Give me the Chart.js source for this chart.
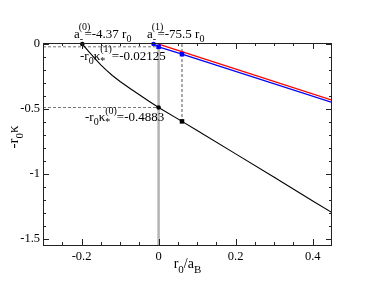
<!DOCTYPE html>
<html>
<head>
<meta charset="utf-8">
<script src="https://cdn.jsdelivr.net/npm/chart.js@4/dist/chart.umd.min.js"></script>
<style>body{margin:0;background:#fff}</style>
</head>
<body>
<canvas id="grafico" width="374" height="289"></canvas>
<script>
// curva preta: estado (0)
let curvaX = [-0.198, -0.19, -0.18, -0.165, -0.15, -0.135, -0.12, -0.1, -0.075, -0.05, -0.025, 0, 0.0607, 0.1, 0.2, 0.3, 0.4, 0.45];
let curvaY = [0, -0.028, -0.062, -0.112, -0.16, -0.203, -0.242, -0.288, -0.34, -0.39, -0.44, -0.4883, -0.595, -0.665, -0.845, -1.025, -1.207, -1.297];
// linhas do estado (1)
let azulX = [-0.0132, 0, 0.0607, 0.45];
let azulY = [0, -0.02125, -0.078, -0.449];
let vermelhoX = [0, 0.45];
let vermelhoY = [0, -0.431];
// pontos marcados
let pontosPretos = [[-0.198, 0], [0, -0.4883]];
let quadradoPreto = [[0.0607, -0.595]];
let pontoAzul = [[-0.0132, 0]];
let quadradosAzuis = [[0, -0.02125], [0.0607, -0.078]];
// eixos
let xTicks = [-0.2, 0, 0.2, 0.4];
let yTicks = [0, -0.5, -1, -1.5];
let xMenores = [-0.25, -0.15, -0.1, -0.05, 0.05, 0.1, 0.15, 0.25, 0.3, 0.35];
let yMenores = [-0.1, -0.2, -0.3, -0.4, -0.6, -0.7, -0.8, -0.9, -1.1, -1.2, -1.3, -1.4];
let xMin = -0.3, xMax = 0.45, yMin = -1.546, yMax = 0.008;

const pts = (xs, ys) => xs.map((x, i) => ({x: x, y: ys[i]}));
const par = (arr) => arr.map(p => ({x: p[0], y: p[1]}));
const fonte = '"Liberation Serif", "Times New Roman", serif';

function texto(ctx, x, y, partes, medir, base) {
  base = base || 13;
  let cx = x;
  for (const p of partes) {
    let tam = p.k ? Math.round(base * 0.75) : base;
    let dy = p.k === 'sup' ? -base * 0.55 : (p.k === 'sub' ? base * 0.33 : 0);
    ctx.font = tam + 'px ' + fonte;
    if (!medir) ctx.fillText(p.t, cx + (p.dx || 0), y + dy);
    if (!p.fica) cx += ctx.measureText(p.t).width + (p.dx || 0);
  }
  return cx - x;
}

const enfeites = {
  id: 'enfeites',
  afterDraw(chart) {
    const ctx = chart.ctx, a = chart.chartArea;
    const sx = chart.scales.x, sy = chart.scales.y;
    ctx.save();
    ctx.strokeStyle = '#222';
    ctx.lineWidth = 1;
    ctx.strokeRect(a.left + 0.5, a.top + 0.5, a.right - a.left - 1, a.bottom - a.top);
    ctx.beginPath();
    const marcaX = (v, len) => {
      const p = Math.round(sx.getPixelForValue(v)) + 0.5;
      ctx.moveTo(p, a.bottom); ctx.lineTo(p, a.bottom - len);
      ctx.moveTo(p, a.top); ctx.lineTo(p, a.top + len);
    };
    const marcaY = (v, len) => {
      const p = Math.round(sy.getPixelForValue(v)) + 0.5;
      ctx.moveTo(a.left, p); ctx.lineTo(a.left + len, p);
      ctx.moveTo(a.right, p); ctx.lineTo(a.right - len, p);
    };
    xTicks.forEach(v => marcaX(v, 6));
    xMenores.forEach(v => marcaX(v, 3));
    yTicks.forEach(v => marcaY(v, 6));
    yMenores.forEach(v => marcaY(v, 3));
    ctx.stroke();

    ctx.fillStyle = '#000';
    ctx.textBaseline = 'alphabetic';
    ctx.textAlign = 'left';
    texto(ctx, 74, 37.5, [{t: 'a'}, {t: '-', k: 'sub', fica: true}, {t: '(0)', k: 'sup', dx: -1}, {t: '=-4.37 r', dx: -6}, {t: '0', k: 'sub'}]);
    texto(ctx, 147, 37.5, [{t: 'a'}, {t: '-', k: 'sub', fica: true}, {t: '(1)', k: 'sup', dx: -1}, {t: '=-75.5 r', dx: -6}, {t: '0', k: 'sub'}]);
    texto(ctx, 80, 59.5, [{t: '-r'}, {t: '0', k: 'sub'}, {t: 'κ'}, {t: '*', k: 'sub', fica: true}, {t: '(1)', k: 'sup'}, {t: '=-0.02125'}]);
    texto(ctx, 85, 121, [{t: '-r'}, {t: '0', k: 'sub'}, {t: 'κ'}, {t: '*', k: 'sub', fica: true}, {t: '(0)', k: 'sup'}, {t: '=-0.4883'}]);

    const tx = [{t: 'r'}, {t: '0', k: 'sub'}, {t: '/a'}, {t: 'B', k: 'sub'}];
    let w = texto(ctx, 0, 0, tx, true, 14);
    texto(ctx, 187.5 - w / 2, 268, tx, false, 14);

    const ty = [{t: '-r'}, {t: '0', k: 'sub'}, {t: 'κ'}];
    w = texto(ctx, 0, 0, ty, true, 15);
    ctx.translate(18, 137);
    ctx.rotate(-Math.PI / 2);
    texto(ctx, -w / 2, 0, ty, false, 15);
    ctx.restore();
  }
};

let grafico = new Chart(document.getElementById('grafico').getContext('2d'), {
  type: 'scatter',
  data: {
    datasets: [
      {data: par(pontosPretos), pointStyle: 'circle', pointRadius: 2.3, backgroundColor: '#000', borderColor: '#000', borderWidth: 0, showLine: false, clip: false},
      {data: par(quadradoPreto), pointStyle: 'rect', pointRadius: 3.2, backgroundColor: '#000', borderColor: '#000', borderWidth: 0, showLine: false, clip: false},
      {data: par(pontoAzul), pointStyle: 'circle', pointRadius: 2.3, backgroundColor: '#0000ff', borderColor: '#0000ff', borderWidth: 0, showLine: false, clip: false},
      {data: par(quadradosAzuis), pointStyle: 'rect', pointRadius: 3.2, backgroundColor: '#0000ff', borderColor: '#0000ff', borderWidth: 0, showLine: false, clip: false},
      {data: pts(curvaX, curvaY), showLine: true, borderColor: '#000', borderWidth: 1.1, pointRadius: 0, tension: 0},
      {data: pts(vermelhoX, vermelhoY), showLine: true, borderColor: '#ff0000', borderWidth: 1.3, pointRadius: 0},
      {data: pts(azulX, azulY), showLine: true, borderColor: '#0000ff', borderWidth: 1.3, pointRadius: 0},
      {data: [{x: xMin, y: azulY[1]}, {x: 0, y: azulY[1]}], showLine: true, borderColor: '#777', borderWidth: 1, borderDash: [3, 2], pointRadius: 0},
      {data: [{x: xMin, y: pontosPretos[1][1]}, {x: 0, y: pontosPretos[1][1]}], showLine: true, borderColor: '#777', borderWidth: 1, borderDash: [3, 2], pointRadius: 0},
      {data: [{x: quadradoPreto[0][0], y: 0}, {x: quadradoPreto[0][0], y: quadradoPreto[0][1]}], showLine: true, borderColor: '#555', borderWidth: 1, borderDash: [3, 2], pointRadius: 0},
      {data: [{x: 0, y: yMin}, {x: 0, y: yMax}], showLine: true, borderColor: '#b4b4b4', borderWidth: 2.5, pointRadius: 0}
    ]
  },
  options: {
    responsive: false,
    animation: false,
    events: [],
    layout: {padding: {top: 43, right: 42, left: 0, bottom: 0}},
    plugins: {legend: {display: false}, tooltip: {enabled: false}},
    scales: {
      x: {
        type: 'linear', min: xMin, max: xMax,
        grid: {display: false, drawTicks: false},
        border: {display: false},
        afterBuildTicks: s => { s.ticks = xTicks.map(v => ({value: v})); },
        afterFit: s => { s.height = 44; },
        ticks: {color: '#000', padding: 4, maxRotation: 0, font: {family: fonte, size: 12.5}, callback: v => String(v)}
      },
      y: {
        type: 'linear', min: yMin, max: yMax,
        grid: {display: false, drawTicks: false},
        border: {display: false},
        afterBuildTicks: s => { s.ticks = yTicks.map(v => ({value: v})); },
        afterFit: s => { s.width = 43; },
        ticks: {color: '#000', padding: 3, font: {family: fonte, size: 12.5}, callback: v => String(v)}
      }
    }
  },
  plugins: [enfeites]
});
</script>
</body>
</html>
